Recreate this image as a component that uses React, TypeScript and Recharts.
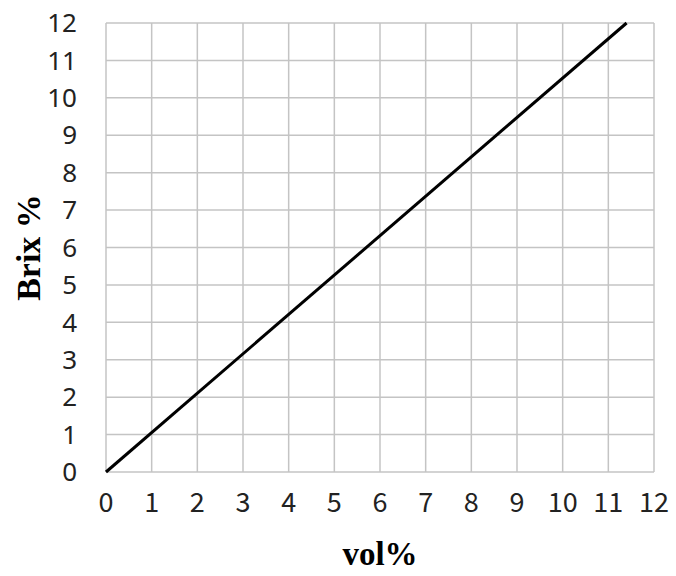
import React from "react";
import { LineChart, Line, XAxis, YAxis, CartesianGrid, Label } from "recharts";

const volPct = [0, 11.4];
const brixPct = [0, 12];
const ticks = [0, 1, 2, 3, 4, 5, 6, 7, 8, 9, 10, 11, 12];

const data = volPct.map((v, i) => ({ vol: v, brix: brixPct[i] }));

export default function App() {
  return (
    <div style={{ position: "absolute", left: 0, top: 0, width: 676, height: 576, background: "#fff" }}>
      <LineChart width={676} height={576} data={data} margin={{ top: 23, right: 22, left: 0, bottom: 0 }}>
        <CartesianGrid stroke="#c4c4c4" strokeWidth={1.5} />
        <XAxis
          dataKey="vol"
          type="number"
          domain={[0, 12]}
          ticks={ticks}
          interval={0}
          height={104}
          axisLine={false}
          tickLine={false}
          tickSize={0}
          tickMargin={21}
          tick={{ fontSize: 27, fill: "#222", fontFamily: "'Noto Sans CJK JP'" }}
        >
          <Label
            value="vol%"
            position="insideBottom"
            offset={11}
            style={{ fontSize: 33, fontWeight: "bold", fontFamily: "'Liberation Serif'", fill: "#000" }}
          />
        </XAxis>
        <YAxis
          type="number"
          domain={[0, 12]}
          ticks={ticks}
          interval={0}
          width={106}
          axisLine={false}
          tickLine={false}
          tickSize={0}
          tickMargin={29}
          tick={{ fontSize: 26, fill: "#222", fontFamily: "'Noto Sans'" }}
        >
          <Label
            value="Brix %"
            angle={-90}
            position="insideLeft"
            offset={28}
            style={{ fontSize: 34, fontWeight: "bold", fontFamily: "'Liberation Serif'", fill: "#000", textAnchor: "middle" }}
          />
        </YAxis>
        <Line dataKey="brix" stroke="#000" strokeWidth={3} dot={false} isAnimationActive={false} />
      </LineChart>
    </div>
  );
}
